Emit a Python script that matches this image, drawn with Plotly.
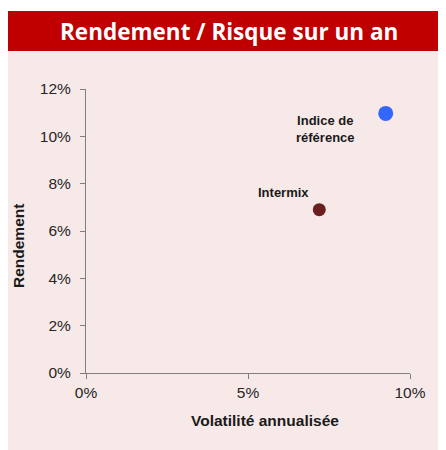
import plotly.graph_objects as go

names = ["Indice de<br>référence", "Intermix"]
volatility = [9.25, 7.2]
returns = [10.97, 6.9]
colors = ["#3366FF", "#6B1F1F"]
sizes = [15, 13]
label_shift = [(-60, -16), (-36, 17)]

x_ticks = [0, 5, 10]
y_ticks = [0, 2, 4, 6, 8, 10, 12]

# page body has an 8px margin: figure is offset by 8px in the window
OFF = 8
W, H = 446 - OFF, 450 - OFF
L, R, T, B = 86 - OFF, 446 - 410, 89 - OFF, 450 - 373
pw, ph = W - L - R, H - T - B


def px(s):
    return (s - OFF - L) / pw


def py(s):
    return (H - B - (s - OFF)) / ph


fig = go.Figure()
for n, xv, yv, c, s in zip(names, volatility, returns, colors, sizes):
    fig.add_trace(go.Scatter(x=[xv], y=[yv], mode="markers",
                             marker=dict(color=c, size=s, line=dict(width=0)),
                             name=n, showlegend=False, hoverinfo="skip"))

shapes = [
    dict(type="rect", xref="paper", yref="paper", x0=px(0), x1=px(460), y0=py(460), y1=py(51),
         fillcolor="#F8E9E9", line=dict(width=0), layer="below"),
    dict(type="rect", xref="paper", yref="paper", x0=px(0), x1=px(460), y0=py(51), y1=py(11),
         fillcolor="#C00000", line=dict(width=0), layer="below"),
]

annotations = [
    dict(text="<b>Rendement / Risque sur un an</b>", xref="paper", yref="paper",
         x=px(229), y=py(31), xanchor="center", yanchor="middle", showarrow=False,
         font=dict(family="Open Sans", size=22.5, color="white")),
    dict(text="<b>Volatilité annualisée</b>", xref="paper", yref="paper",
         x=px(265), y=py(420), xanchor="center", yanchor="middle", showarrow=False,
         font=dict(family="Arial", size=15.5, color="#1a1a1a")),
    dict(text="<b>Rendement</b>", xref="paper", yref="paper", textangle=-90,
         x=px(18), y=py(246), xanchor="center", yanchor="middle", showarrow=False,
         font=dict(family="Arial", size=15.5, color="#1a1a1a")),
]
for n, xv, yv, (dx, dy) in zip(names, volatility, returns, label_shift):
    annotations.append(dict(text="<b>" + n + "</b>", x=xv, y=yv, xref="x", yref="y",
                            xshift=dx, yshift=dy, showarrow=False, align="center",
                            xanchor="center", yanchor="middle",
                            font=dict(family="Arial", size=13, color="#1a1a1a")))

axis_common = dict(showgrid=False, zeroline=False, showline=True, linecolor="#7f7f7f", linewidth=1,
                   ticks="outside", ticklen=5, tickcolor="#7f7f7f",
                   tickfont=dict(family="Arial", size=15.5, color="#262626"))

fig.update_layout(
    width=W, height=H,
    margin=dict(l=L, r=R, t=T, b=B),
    paper_bgcolor="white", plot_bgcolor="rgba(0,0,0,0)",
    shapes=shapes, annotations=annotations,
    xaxis=dict(range=[0, 10], tickvals=x_ticks, ticktext=[f"{v}%" for v in x_ticks], **axis_common),
    yaxis=dict(range=[0, 12], tickvals=y_ticks, ticktext=[f"{v}%" for v in y_ticks],
               ticklabelstandoff=6, **axis_common),
)

fig.write_html("out.html")
